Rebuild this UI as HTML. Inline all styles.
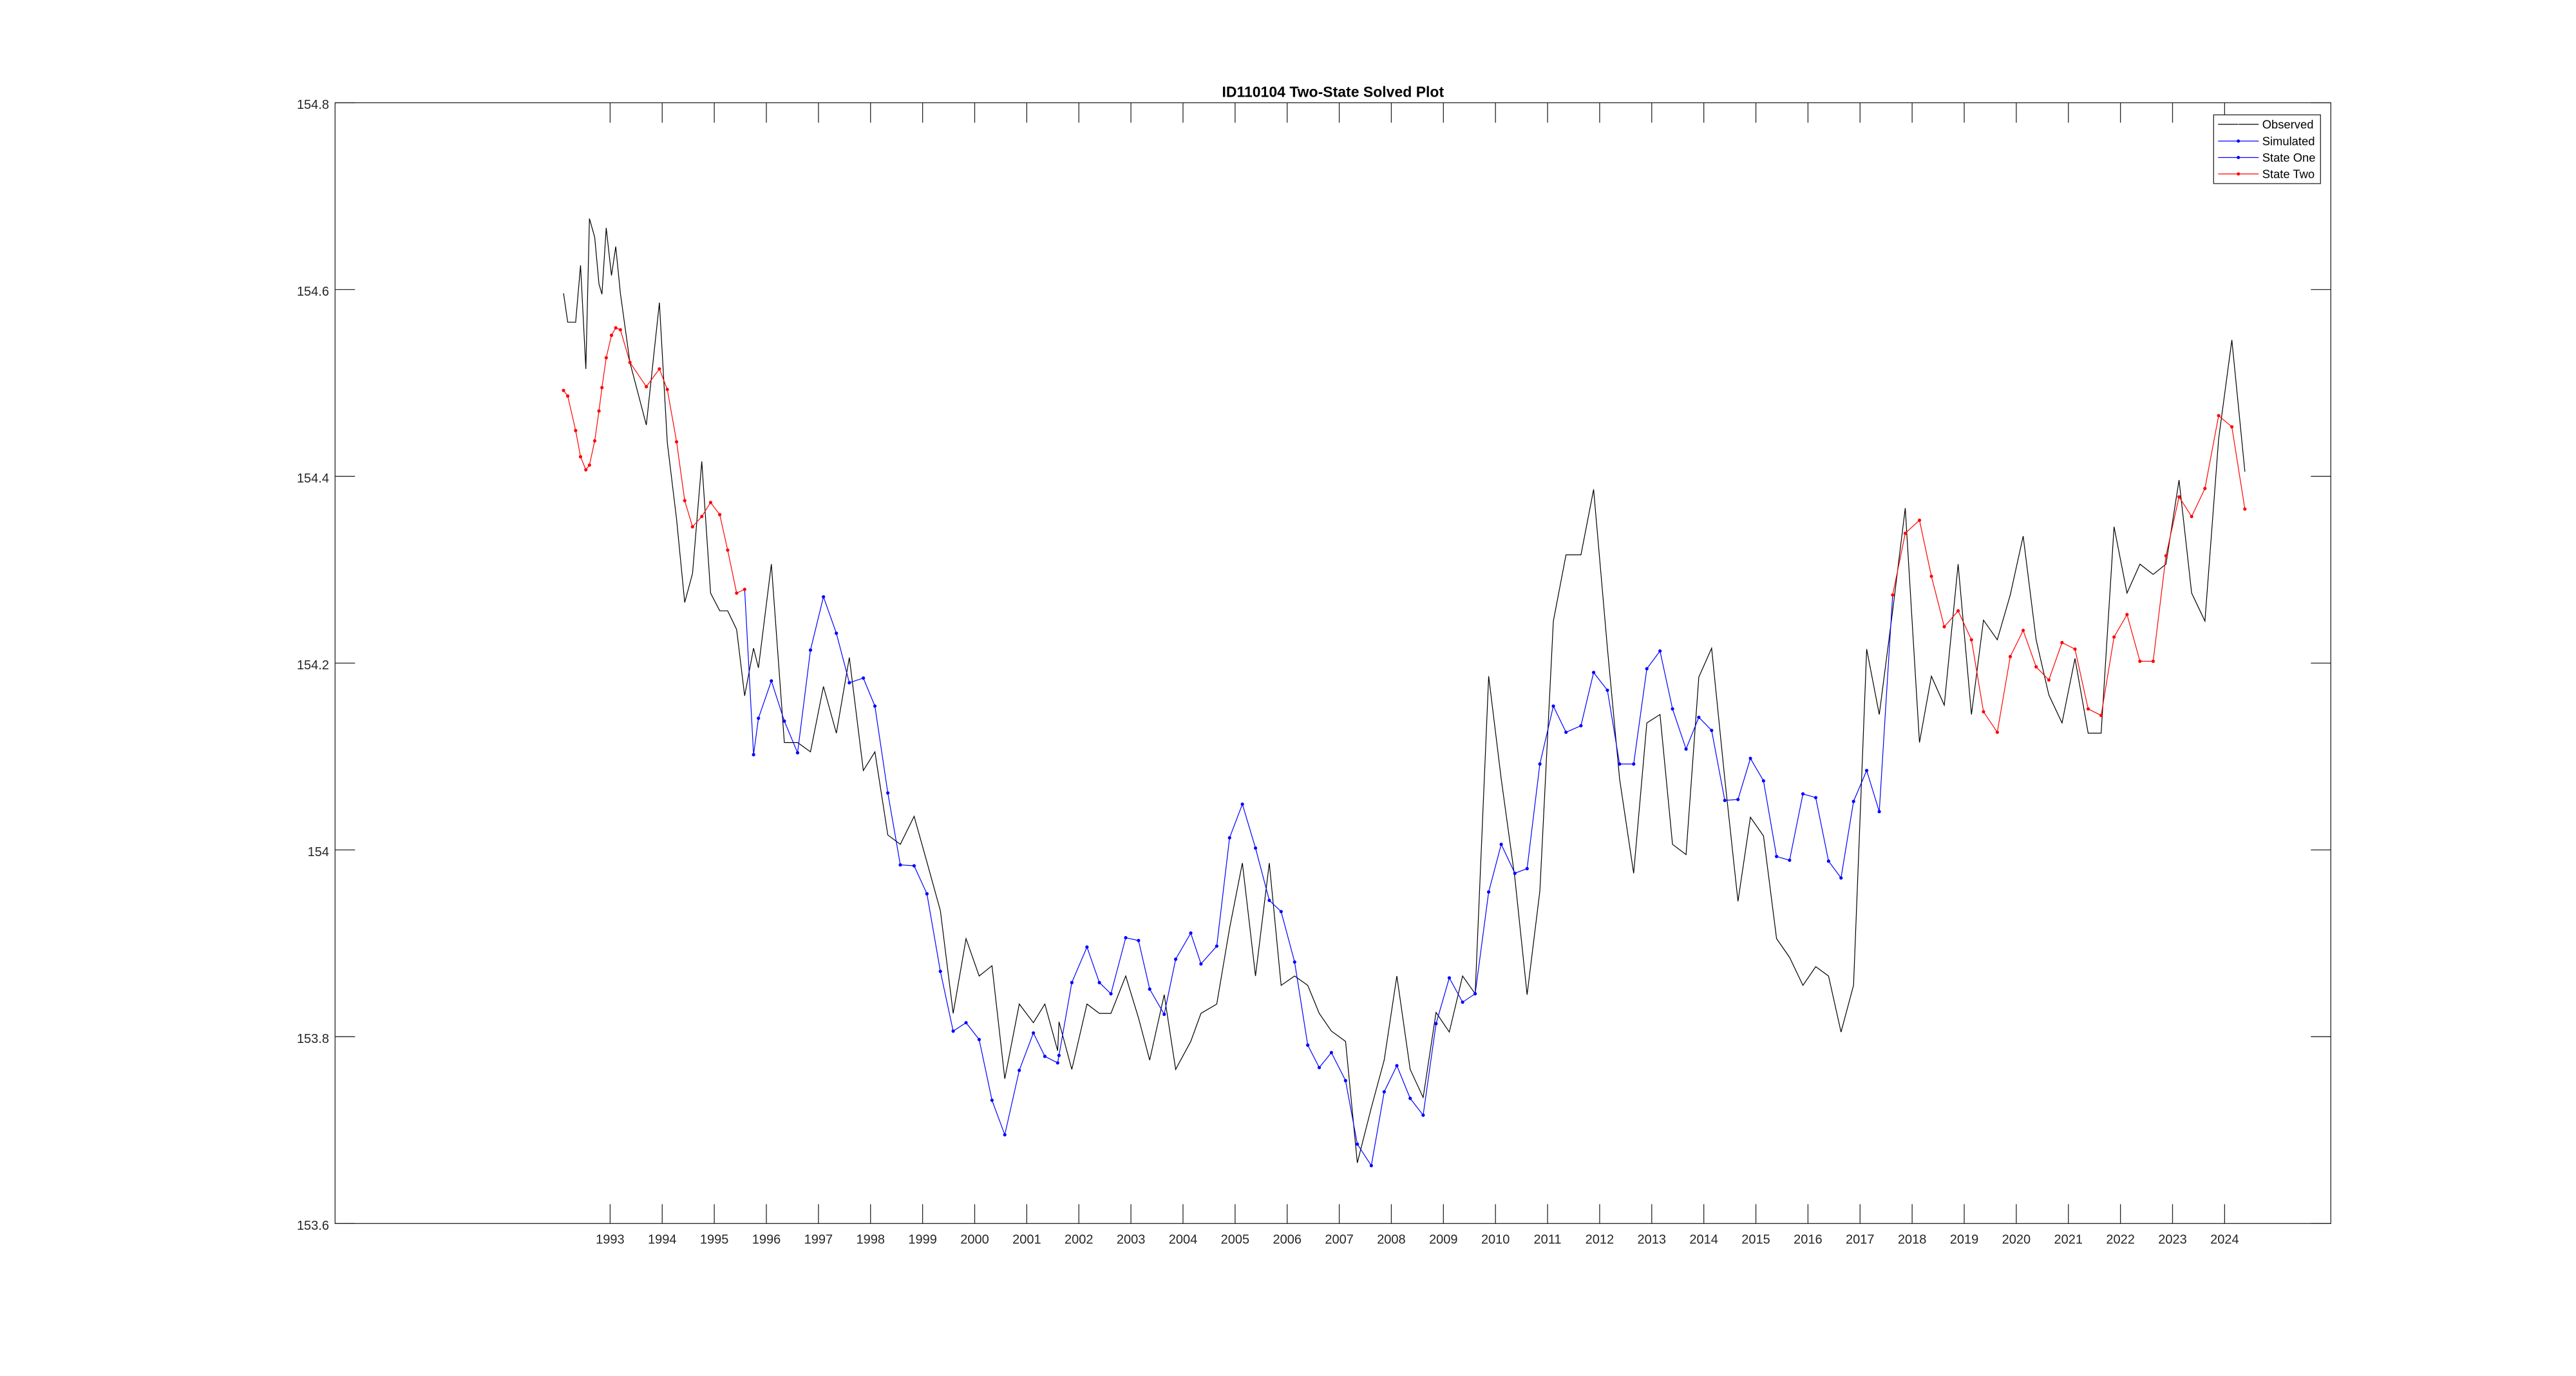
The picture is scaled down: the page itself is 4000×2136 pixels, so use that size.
<!DOCTYPE html>
<html lang="en">
<head>
<meta charset="utf-8">
<title>ID110104 Two-State Solved Plot</title>
<style>
html,body{margin:0;padding:0;background:#fff;width:4000px;height:2136px;overflow:hidden}
svg{display:block}
text{font-family:"Liberation Sans",Arial,sans-serif}
</style>
</head>
<body>
<svg id="chart" xmlns="http://www.w3.org/2000/svg" width="4000" height="2136" viewBox="0 0 4000 2136">
  <rect x="0" y="0" width="4000" height="2136" fill="#fff"/>
  <text x="2069.8" y="150.7" text-anchor="middle" font-size="23" font-weight="bold" fill="#000">ID110104 Two-State Solved Plot</text>
  <g id="ticks"></g>
  <g id="series"></g>
  <rect x="520.3" y="159.5" width="3099" height="1739.8" fill="none" stroke="#262626" stroke-width="1.3"/>
  <g id="legend">
    <rect x="3437.3" y="178.3" width="166" height="106.7" fill="#fff" stroke="#262626" stroke-width="1.3"/>
    <g>
      <line x1="3444.3" x2="3507.3" y1="193" y2="193" stroke="#000" stroke-width="1.2"/>
      <circle cx="3475.7" cy="193" r="0.9" fill="#888"/>
      <text x="3512.7" y="199.5" font-size="18.4" fill="#000">Observed</text>
    </g>
    <g>
      <line x1="3444.3" x2="3507.3" y1="219" y2="219" stroke="#0000ff" stroke-width="1.2"/>
      <circle cx="3475.7" cy="219" r="2.5" fill="#0000ff"/>
      <text x="3512.7" y="225.5" font-size="18.4" fill="#000">Simulated</text>
    </g>
    <g>
      <line x1="3444.3" x2="3507.3" y1="244.5" y2="244.5" stroke="#0000ff" stroke-width="1.2"/>
      <circle cx="3475.7" cy="244.5" r="2.5" fill="#0000ff"/>
      <text x="3512.7" y="251" font-size="18.4" fill="#000">State One</text>
    </g>
    <g>
      <line x1="3444.3" x2="3507.3" y1="270" y2="270" stroke="#ff0000" stroke-width="1.2"/>
      <circle cx="3475.7" cy="270" r="2.5" fill="#ff0000"/>
      <text x="3512.7" y="276.5" font-size="18.4" fill="#000">State Two</text>
    </g>
  </g>
</svg>
<script>
const yearTicks = [1993,1994,1995,1996,1997,1998,1999,2000,2001,2002,2003,2004,2005,2006,2007,2008,2009,2010,2011,2012,2013,2014,2015,2016,2017,2018,2019,2020,2021,2022,2023,2024];
const valueTicks = [153.6,153.8,154,154.2,154.4,154.6,154.8];
const dates = [
1992.105,1992.186,1992.338,1992.432,1992.534,1992.603,1992.704,1992.786,1992.843,1992.925,
1993.026,1993.108,1993.197,1993.380,1993.695,1993.946,1994.098,1994.276,1994.432,1994.582,
1994.760,1994.929,1995.105,1995.257,1995.429,1995.583,1995.754,1995.848,1996.096,1996.345,
1996.599,1996.847,1997.096,1997.344,1997.593,1997.862,1998.084,1998.332,1998.572,1998.837,
1999.083,1999.341,1999.587,1999.834,2000.086,2000.332,2000.578,2000.856,2001.127,2001.347,
2001.593,2001.619,2001.865,2002.156,2002.394,2002.616,2002.900,2003.146,2003.360,2003.639,
2003.859,2004.149,2004.345,2004.648,2004.894,2005.140,2005.392,2005.657,2005.884,2006.143,
2006.395,2006.616,2006.849,2007.121,2007.347,2007.616,2007.863,2008.106,2008.362,2008.611,
2008.859,2009.113,2009.368,2009.610,2009.869,2010.110,2010.372,2010.607,2010.852,2011.111,
2011.354,2011.641,2011.884,2012.149,2012.383,2012.653,2012.906,2013.159,2013.399,2013.659,
2013.904,2014.150,2014.403,2014.656,2014.895,2015.146,2015.397,2015.647,2015.903,2016.149,
2016.395,2016.635,2016.875,2017.127,2017.369,2017.626,2017.868,2018.141,2018.370,2018.617,
2018.883,2019.139,2019.370,2019.635,2019.884,2020.132,2020.381,2020.625,2020.878,2021.127,
2021.380,2021.629,2021.877,2022.126,2022.374,2022.628,2022.874,2023.125,2023.367,2023.622,
2023.885,2024.139,2024.389
];
const observed = [
154.596,154.565,154.565,154.626,154.515,154.676,154.656,154.606,154.595,154.666,
154.615,154.646,154.596,154.522,154.455,154.586,154.436,154.354,154.265,154.296,
154.416,154.275,154.256,154.256,154.236,154.165,154.216,154.195,154.306,154.115,
154.115,154.105,154.175,154.125,154.206,154.085,154.105,154.016,154.006,154.036,
153.987,153.935,153.825,153.905,153.865,153.876,153.755,153.835,153.815,153.835,
153.785,153.816,153.765,153.835,153.825,153.825,153.865,153.820,153.775,153.845,
153.765,153.795,153.825,153.835,153.916,153.986,153.865,153.986,153.855,153.865,
153.855,153.825,153.806,153.795,153.665,153.724,153.775,153.865,153.765,153.735,
153.826,153.805,153.865,153.846,154.186,154.076,153.970,153.845,153.956,154.245,
154.316,154.316,154.386,154.216,154.076,153.975,154.136,154.145,154.006,153.995,
154.185,154.216,154.076,153.945,154.035,154.015,153.905,153.885,153.855,153.875,
153.865,153.805,153.855,154.215,154.145,154.256,154.366,154.115,154.186,154.155,
154.306,154.145,154.246,154.225,154.273,154.336,154.225,154.166,154.136,154.205,
154.125,154.125,154.346,154.275,154.306,154.295,154.306,154.396,154.275,154.245,
154.440,154.546,154.405
];
const simulated = [
154.492,154.486,154.449,154.421,154.407,154.412,154.438,154.470,154.495,154.527,
154.551,154.559,154.557,154.522,154.496,154.515,154.493,154.437,154.374,154.346,
154.357,154.372,154.359,154.321,154.275,154.279,154.102,154.141,154.181,154.138,
154.104,154.214,154.271,154.232,154.179,154.184,154.154,154.061,153.984,153.983,
153.953,153.870,153.806,153.815,153.797,153.732,153.695,153.764,153.804,153.779,
153.772,153.780,153.858,153.896,153.858,153.846,153.906,153.903,153.851,153.824,
153.883,153.911,153.878,153.897,154.013,154.049,154.002,153.946,153.934,153.880,
153.791,153.767,153.783,153.753,153.685,153.662,153.741,153.769,153.734,153.716,
153.814,153.863,153.837,153.846,153.955,154.006,153.975,153.980,154.092,154.154,
154.126,154.133,154.190,154.171,154.092,154.092,154.194,154.213,154.151,154.108,
154.142,154.128,154.053,154.054,154.098,154.074,153.993,153.989,154.060,154.056,
153.988,153.970,154.052,154.085,154.041,154.273,154.339,154.353,154.293,154.239,
154.256,154.225,154.148,154.126,154.207,154.235,154.196,154.182,154.222,154.215,
154.151,154.144,154.228,154.252,154.202,154.202,154.315,154.378,154.357,154.387,
154.465,154.453,154.365
];
const states = [
2,2,2,2,2,2,2,2,2,2,
2,2,2,2,2,2,2,2,2,2,
2,2,2,2,2,2,1,1,1,1,
1,1,1,1,1,1,1,1,1,1,
1,1,1,1,1,1,1,1,1,1,
1,1,1,1,1,1,1,1,1,1,
1,1,1,1,1,1,1,1,1,1,
1,1,1,1,1,1,1,1,1,1,
1,1,1,1,1,1,1,1,1,1,
1,1,1,1,1,1,1,1,1,1,
1,1,1,1,1,1,1,1,1,1,
1,1,1,1,1,2,2,2,2,2,
2,2,2,2,2,2,2,2,2,2,
2,2,2,2,2,2,2,2,2,2,
2,2,2
];

const SVG_NS = 'http://www.w3.org/2000/svg';
const plotLeft = 520.3, plotRight = 3619.3, plotTop = 159.5, plotBottom = 1899.3;
const yearOriginPx = 947.4, pxPerYear = 80.87;
const valueMax = 154.8, valueMin = 153.6;
function xAxis(t){ return yearOriginPx + (t - 1993) * pxPerYear; }
function yAxis(v){ return plotTop + (valueMax - v) / (valueMax - valueMin) * (plotBottom - plotTop); }
function make(tag, attrs, parent){
  const el = document.createElementNS(SVG_NS, tag);
  for (const k in attrs) el.setAttribute(k, attrs[k]);
  parent.appendChild(el);
  return el;
}
const tickGroup = document.getElementById('ticks');
const seriesGroup = document.getElementById('series');
const axisColor = '#262626';

yearTicks.forEach(function(year){
  const x = xAxis(year);
  const bottomTick = make('line', {x1:x, x2:x, y1:plotBottom, y2:plotBottom-30, stroke:axisColor, 'stroke-width':1.3}, tickGroup);
  
  
  const topTick = make('line', {x1:x, x2:x, y1:plotTop, y2:plotTop+31, stroke:axisColor, 'stroke-width':1.3}, tickGroup);
  
  
  const label = make('text', {x:x, y:1930.6, 'text-anchor':'middle', 'font-size':20, fill:axisColor}, tickGroup);
  
  
  label.textContent = String(year);
});
valueTicks.forEach(function(v){
  const y = yAxis(v);
  const leftTick = make('line', {x1:plotLeft, x2:plotLeft+31, y1:y, y2:y, stroke:axisColor, 'stroke-width':1.3}, tickGroup);
  
  
  const rightTick = make('line', {x1:plotRight, x2:plotRight-31, y1:y, y2:y, stroke:axisColor, 'stroke-width':1.3}, tickGroup);
  
  
  const label = make('text', {x:511, y:y+9.6, 'text-anchor':'end', 'font-size':20, fill:axisColor}, tickGroup);
  
  
  label.textContent = String(v);
});

function pointsFor(values, from, to){
  const pts = [];
  for (let i = from; i <= to; i++) pts.push(xAxis(dates[i]).toFixed(2) + ',' + yAxis(values[i]).toFixed(2));
  return pts.join(' ');
}
const observedLine = make('polyline', {points:pointsFor(observed, 0, dates.length-1), fill:'none', stroke:'#000', 'stroke-width':1.2, 'stroke-linejoin':'miter'}, seriesGroup);



/* Blue runs: each state-one run plus the connecting segment to its neighbours. */
let oneStart = -1;
for (let i = 0; i <= states.length; i++) {
  const isOne = i < states.length && states[i] === 1;
  if (isOne && oneStart < 0) oneStart = i;
  if (!isOne && oneStart >= 0) {
    const from = Math.max(0, oneStart - 1);
    const to = Math.min(states.length - 1, i);
    const seg = make('polyline', {points:pointsFor(simulated, from, to), fill:'none', stroke:'#0000ff', 'stroke-width':1.2}, seriesGroup);
    
    
    oneStart = -1;
  }
}
simulated.forEach(function(v, i){
  if (states[i] !== 1) return;
  const dot = make('circle', {cx:xAxis(dates[i]), cy:yAxis(v), r:2.6, fill:'#0000ff'}, seriesGroup);
  
  
});

let runStart = -1;
for (let i = 0; i <= states.length; i++) {
  const isTwo = i < states.length && states[i] === 2;
  if (isTwo && runStart < 0) runStart = i;
  if (!isTwo && runStart >= 0) {
    const seg = make('polyline', {points:pointsFor(simulated, runStart, i-1), fill:'none', stroke:'#ff0000', 'stroke-width':1.2}, seriesGroup);
    
    
    runStart = -1;
  }
}
simulated.forEach(function(v, i){
  if (states[i] !== 2) return;
  const dot = make('circle', {cx:xAxis(dates[i]), cy:yAxis(v), r:2.6, fill:'#ff0000'}, seriesGroup);
  
  
});
</script>
</body>
</html>
